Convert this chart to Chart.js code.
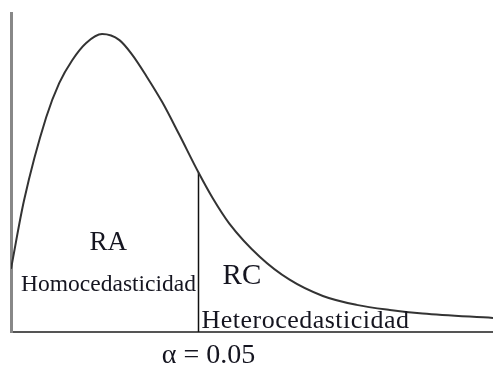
<!DOCTYPE html>
<html>
<head>
<meta charset="utf-8">
<script src="https://cdn.jsdelivr.net/npm/chart.js@4"></script>
<style>
  html, body { margin:0; padding:0; background:#fff; }
  #wrap { width:493px; height:365px; }
</style>
</head>
<body>
<div id="wrap"><canvas id="chart" width="493" height="365"></canvas></div>
<script>
// curve (x in arbitrary units 0..10, y density 0..1)
const curveX = [0, 0.27, 0.73, 1.0, 1.27, 1.56, 1.89, 2.25, 2.52, 2.81, 3.14, 3.49, 3.89, 4.18, 4.53, 5.16, 5.78, 6.47, 7.17, 7.86, 8.54, 10];
const curveY = [0.198, 0.412, 0.673, 0.780, 0.852, 0.906, 0.934, 0.915, 0.868, 0.802, 0.720, 0.619, 0.500, 0.421, 0.340, 0.236, 0.164, 0.113, 0.085, 0.069, 0.058, 0.044];

// critical value (alpha = 0.05) and its height on the curve
const critX = 3.89;
const critY = 0.500;

// text labels, placed in data units
const labels = [
  { text:'RA', x:2.02, y:0.258, size:27, align:'center', spacing:0 },
  { text:'Homocedasticidad', x:0.21, y:0.129, size:23.5, align:'left', spacing:0 },
  { text:'RC', x:4.39, y:0.151, size:29, align:'left', spacing:0 },
  { text:'Heterocedasticidad', x:3.95, y:0.012, size:26, align:'left', spacing:0.5 }
];
const alphaLabel = 'α = 0.05';

const curve = curveX.map((x, i) => ({ x, y: curveY[i] }));
const critLine = [{ x: critX, y: 0 }, { x: critX, y: critY }];

// draws the region labels and the alpha under the axis
const textPlugin = {
  id: 'texts',
  afterDraw(chart){
    const ctx = chart.ctx;
    const xs = chart.scales.x, ys = chart.scales.y;
    ctx.save();
    ctx.fillStyle = '#151520';
    ctx.textBaseline = 'alphabetic';
    labels.forEach(l => {
      ctx.font = l.size + 'px "Liberation Serif", "Times New Roman", serif';
      ctx.letterSpacing = l.spacing + 'px';
      ctx.textAlign = l.align;
      ctx.fillText(l.text, xs.getPixelForValue(l.x), ys.getPixelForValue(l.y));
    });
    ctx.letterSpacing = '0px';
    ctx.font = '28px "Liberation Serif", "Times New Roman", serif';
    ctx.textAlign = 'center';
    ctx.fillText(alphaLabel, xs.getPixelForValue(critX) + 10, chart.chartArea.bottom + 31);
    ctx.restore();
  }
};

new Chart(document.getElementById('chart'), {
  type: 'line',
  data: {
    datasets: [
      {
        data: curve,
        borderColor: '#333',
        borderWidth: 2,
        pointRadius: 0,
        cubicInterpolationMode: 'monotone',
        fill: false
      },
      {
        data: critLine,
        borderColor: '#111',
        borderWidth: 1.5,
        pointRadius: 0,
        tension: 0,
        fill: false
      }
    ]
  },
  options: {
    responsive: false,
    animation: false,
    layout: { padding: { left: 11, top: 13, right: 0, bottom: 33 } },
    plugins: { legend: { display: false }, tooltip: { enabled: false } },
    scales: {
      x: {
        type: 'linear', min: 0, max: 10,
        grid: { display: false, drawTicks: false },
        ticks: { display: false },
        border: { color: '#555', width: 2 }
      },
      y: {
        min: 0, max: 1,
        grid: { display: false, drawTicks: false },
        ticks: { display: false },
        border: { color: '#888', width: 3 }
      }
    }
  },
  plugins: [textPlugin]
});
</script>
</body>
</html>
